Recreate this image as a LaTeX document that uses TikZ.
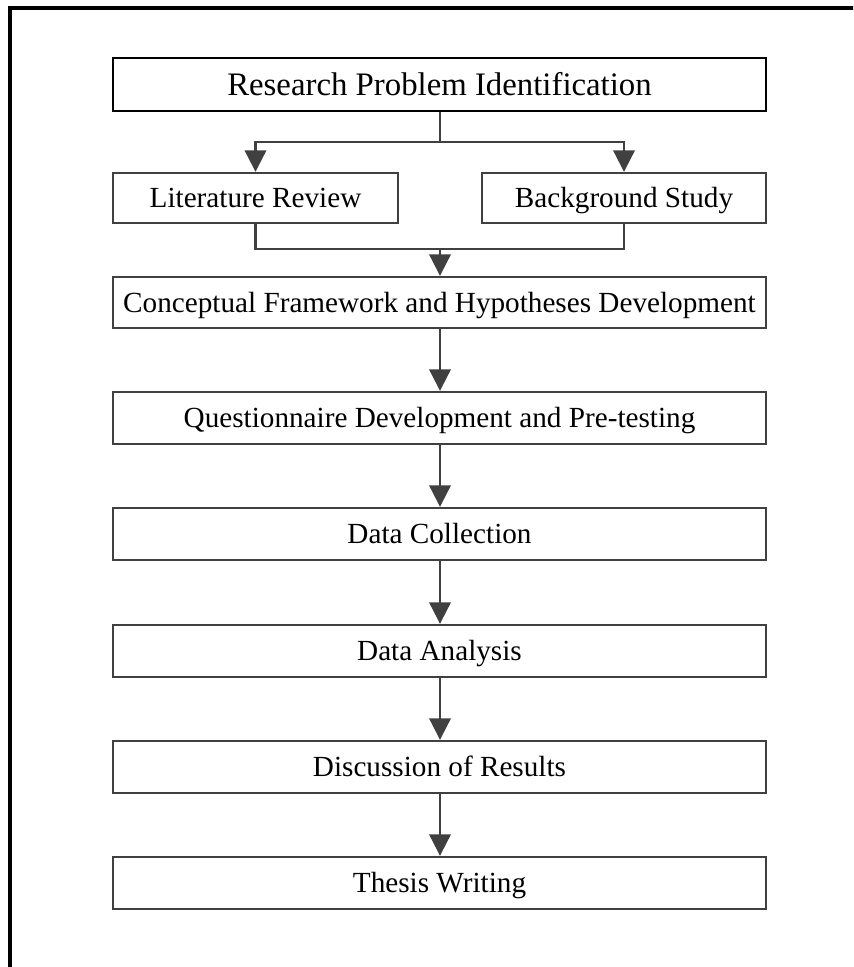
\documentclass[tikz,border=0pt]{standalone}
\usepackage{fontspec}
\setmainfont{Liberation Serif}
\usetikzlibrary{arrows.meta}
\definecolor{dg}{HTML}{404040}
\begin{document}
\begin{tikzpicture}[x=0.75pt,y=-0.75pt,
  box/.style={draw=dg,line width=1.8pt,rectangle,inner sep=0pt,text=black,
    text height=15.8pt,text depth=1.3pt,
    font=\fontsize{21.9}{26}\selectfont},
  topbox/.style={box,draw=black,text height=17.7pt,text depth=1.5pt,
    font=\fontsize{24.6}{29}\selectfont},
  conn/.style={draw=dg,line width=1.6pt},
  arr/.style={conn,-{Triangle[length=16pt,width=16pt]}}]
\useasboundingbox (0,0) rectangle (853,967);
\clip (0,0) rectangle (853,967);
\fill[white] (0,0) rectangle (853,967);
\draw[line width=2.3pt,black] (10,1000) -- (10,8) -- (900,8);

\node[topbox,minimum width=653*0.75pt,minimum height=53*0.75pt] (rp) at (439.5,84.5) {Research Problem Identification};
\node[box,minimum width=285*0.75pt,minimum height=50*0.75pt] (lr) at (255.5,198) {Literature Review};
\node[box,minimum width=284*0.75pt,minimum height=50*0.75pt] (bs) at (624,198) {Background Study};
\node[box,minimum width=653*0.75pt,minimum height=51*0.75pt] (cf) at (439.5,302.5) {Conceptual Framework and Hypotheses Development};
\node[box,minimum width=653*0.75pt,minimum height=52*0.75pt] (qd) at (439.5,418) {Questionnaire Development and Pre-testing};
\node[box,minimum width=653*0.75pt,minimum height=52*0.75pt] (dc) at (439.5,534) {Data Collection};
\node[box,minimum width=653*0.75pt,minimum height=52*0.75pt] (da) at (439.5,651) {Data Analysis};
\node[box,minimum width=653*0.75pt,minimum height=52*0.75pt] (dr) at (439.5,767) {Discussion of Results};
\node[box,minimum width=653*0.75pt,minimum height=52*0.75pt] (tw) at (439.5,883) {Thesis Writing};

\coordinate (sp) at (440,142);
\coordinate (mg) at (440,249);
\draw[conn] (rp.south -| sp) -- (sp);
\draw[arr] (sp) -| (lr.north);
\draw[arr] (sp) -| (bs.north);
\draw[conn] (lr.south) |- (bs.south |- mg) -- (bs.south);
\draw[arr] (mg) -- (cf.north -| mg);
\draw[arr] (cf.south -| mg) -- (qd.north -| mg);
\draw[arr] (qd.south -| mg) -- (dc.north -| mg);
\draw[arr] (dc.south -| mg) -- (da.north -| mg);
\draw[arr] (da.south -| mg) -- (dr.north -| mg);
\draw[arr] (dr.south -| mg) -- (tw.north -| mg);
\end{tikzpicture}
\end{document}
